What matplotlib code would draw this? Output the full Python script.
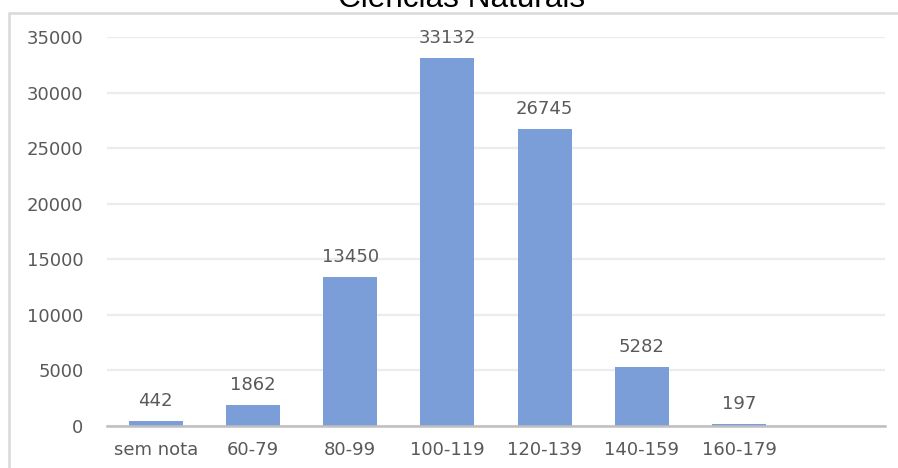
import matplotlib
matplotlib.use("Agg")
import matplotlib.pyplot as plt
from matplotlib.patches import Rectangle

categories = ["sem nota", "60-79", "80-99", "100-119", "120-139", "140-159", "160-179"]
values = [442, 1862, 13450, 33132, 26745, 5282, 197]
yticks = [0, 5000, 10000, 15000, 20000, 25000, 30000, 35000]
title = "Ciências Naturais"

W, H = 898, 468
fig = plt.figure(figsize=(W / 100, H / 100), dpi=100)
fig.patch.set_facecolor("white")

# chart border (extends beyond the visible crop on right and bottom)
fig.patches.append(Rectangle((9 / W, -0.1), 1.2, 1 - 13.5 / H + 0.1,
                             transform=fig.transFigure, fill=False,
                             edgecolor="#D9D9D9", linewidth=1.8, zorder=0))

ax = fig.add_axes([107 / W, (H - 426) / H, (885 - 107) / W, (426 - 37) / H])
x = list(range(len(categories)))
ax.bar(x, values, width=0.555, color="#7B9ED8", zorder=2)
ax.set_xlim(-0.5, len(categories) + 0.5)
ax.set_ylim(0, 35000)
ax.set_yticks(yticks)
ax.set_yticklabels([str(v) for v in yticks])
ax.set_xticks(x)
ax.set_xticklabels(categories)

textc = "#595959"
fs = 13.0
ax.tick_params(axis="y", length=0, pad=17, labelsize=fs, labelcolor=textc)
ax.tick_params(axis="x", length=0, pad=10.5, labelsize=fs, labelcolor=textc)
for lab in ax.get_xticklabels() + ax.get_yticklabels():
    lab.set_fontfamily("DejaVu Sans")

ax.grid(axis="y", color="#ECECEC", linewidth=1.6, zorder=0)
ax.set_axisbelow(True)
for s in ["top", "right", "left"]:
    ax.spines[s].set_visible(False)
ax.spines["bottom"].set_color("#BFBFBF")
ax.spines["bottom"].set_linewidth(1.8)
ax.spines["bottom"].set_zorder(3)
ax.patch.set_alpha(0)

for xi, v in zip(x, values):
    ax.annotate(str(v), (xi, v), xytext=(0, 14.4), textcoords="offset points",
                ha="center", va="center", fontsize=fs, color=textc,
                family="DejaVu Sans")

fig.text(461.5 / W, 1 - 7 / H, title, ha="center", va="baseline",
         fontsize=22.7, family="Liberation Sans", color="black")

fig.savefig("out.png", dpi=100)
